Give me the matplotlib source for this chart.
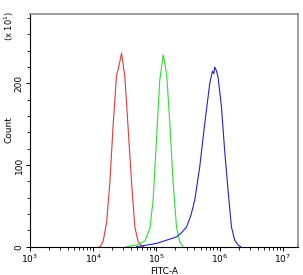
# Flow cytometry histogram overlay (FITC-A)

import matplotlib
matplotlib.use('Agg')
from matplotlib import pyplot as plt
from matplotlib.ticker import MultipleLocator, LogLocator
import numpy as np

red_x = [1.25e4, 1.32e4, 1.44e4, 1.63e4, 1.84e4, 2.07e4, 2.34e4, 2.50e4, 2.81e4,
         3.17e4, 3.57e4, 4.05e4, 4.56e4, 5.14e4, 5.82e4, 6.30e4]
red_y = [0, 1, 7, 30, 80, 150, 210, 218, 237, 208, 145, 78, 24, 6, 1, 0]

green_x = [3.37e4, 4.85e4, 6.56e4, 7.87e4, 8.87e4, 1.00e5, 1.13e5, 1.28e5,
           1.45e5, 1.63e5, 1.84e5, 2.08e5, 2.34e5, 2.64e5]
green_y = [0, 2, 7, 22, 57, 130, 204, 235, 212, 151, 78, 24, 6, 0]

blue_x = [4.85e4, 6.98e4, 1.00e5, 1.45e5, 2.08e5, 2.49e5, 2.99e5, 3.50e5, 4.04e5,
          4.85e5, 5.82e5, 6.98e5, 7.70e5, 8.07e5, 8.37e5, 8.83e5, 9.44e5, 1.07e6,
          1.20e6, 1.36e6, 1.54e6, 1.73e6, 1.96e6, 2.15e6]
blue_y = [0, 2, 4, 8, 12, 17, 24, 38, 57, 98, 151, 200, 215, 212, 220, 216, 208,
          171, 118, 69, 24, 8, 2, 0]

fig = plt.figure(figsize=(3.03, 2.75), dpi=100)
ax = fig.add_axes([30/303, 1-246.7/275, 268/303, 232.7/275])

ax.plot(red_x, red_y, color='#e23a3a', lw=0.8)
ax.plot(green_x, green_y, color='#2edc2e', lw=0.8)
ax.plot(blue_x, blue_y, color='#2222cc', lw=0.8)

ax.set_xscale('log')
ax.set_xlim(1e3, 10**7.24)
ax.set_ylim(0, 285)
ax.xaxis.set_major_locator(LogLocator(base=10, numticks=10))
ax.xaxis.set_minor_locator(LogLocator(base=10, subs=np.arange(2, 10), numticks=20))
ax.yaxis.set_major_locator(MultipleLocator(100))
ax.yaxis.set_minor_locator(MultipleLocator(20))

for s in ['top', 'right']:
    ax.spines[s].set_color('#8a8a8a')
    ax.spines[s].set_linewidth(1.2)
for s in ['left', 'bottom']:
    ax.spines[s].set_color('black')
    ax.spines[s].set_linewidth(0.8)

ax.tick_params(axis='both', which='major', labelsize=6.5, length=3, width=0.7, pad=1.5)
ax.tick_params(axis='both', which='minor', length=2, width=0.6)
ax.tick_params(axis='y', labelrotation=90)
for lab in ax.get_yticklabels():
    lab.set_va('center')

ax.set_xlabel('FITC-A', fontsize=6.5, labelpad=1)
fig.text(9/303, 1-130/275, 'Count', rotation=90, fontsize=6.5,
         ha='center', va='center')
fig.text(9/303, 1-26/275, r'(x 10$^1$)', rotation=90, fontsize=6,
         ha='center', va='center')

fig.savefig('out.png', dpi=100)
